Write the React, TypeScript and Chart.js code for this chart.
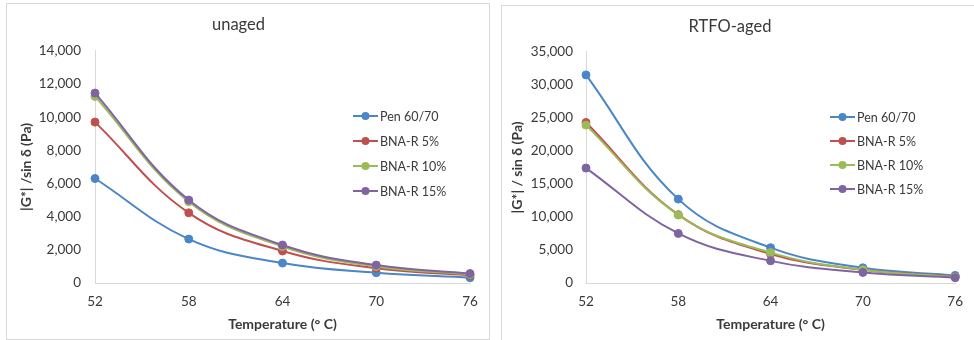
import React, { useEffect, useRef } from "react";
import { Chart, registerables } from "chart.js";

Chart.register(...registerables);

const temperatures = ["52", "58", "64", "70", "76"];
const seriesNames = ["Pen 60/70", "BNA-R 5%", "BNA-R 10%", "BNA-R 15%"];
const seriesColors = ["#4A86C8", "#C0504D", "#9BBB59", "#8064A2"];

const unagedPen = [6300, 2650, 1200, 620, 320];
const unagedBna5 = [9700, 4230, 1930, 890, 460];
const unagedBna10 = [11250, 4900, 2200, 1000, 520];
const unagedBna15 = [11450, 5000, 2290, 1080, 570];

const rtfoPen = [31500, 12700, 5350, 2300, 1150];
const rtfoBna5 = [24300, 10350, 4400, 2000, 950];
const rtfoBna10 = [23900, 10300, 4600, 2000, 900];
const rtfoBna15 = [17400, 7500, 3350, 1600, 800];

const FONT = "Lato, 'Open Sans', sans-serif";
const TEXT = "#3a3a3a";

type PanelCfg = {
  title: string;
  yTitle: string;
  series: number[][];
  yMax: number;
  yStep: number;
  width: number;
  height: number;
  yWidth: number;
  xHeight: number;
  padRight: number;
  titlePadTop: number;
  titlePadBottom: number;
  yTitlePad: number;
  yTickPad: number;
  xTitlePad: number;
  legendX: number;
  legendY: number[];
};

const legendPlugin = {
  id: "insideLegend",
  afterDraw(chart: any, _args: any, opts: any) {
    const ctx = chart.ctx;
    ctx.save();
    chart.data.datasets.forEach((ds: any, i: number) => {
      const y = opts.ys[i];
      const x0 = opts.x;
      ctx.strokeStyle = ds.borderColor;
      ctx.lineWidth = 2;
      ctx.beginPath();
      ctx.moveTo(x0, y);
      ctx.lineTo(x0 + 25, y);
      ctx.stroke();
      ctx.fillStyle = ds.borderColor;
      ctx.beginPath();
      ctx.arc(x0 + 12.5, y, 4, 0, Math.PI * 2);
      ctx.fill();
      ctx.fillStyle = TEXT;
      ctx.font = `12.5px ${FONT}`;
      ctx.textBaseline = "middle";
      ctx.textAlign = "left";
      ctx.fillText(ds.label, x0 + 27, y + 0.5);
    });
    ctx.restore();
  },
};

function Panel({ cfg }: { cfg: PanelCfg }) {
  const ref = useRef<HTMLCanvasElement>(null);
  useEffect(() => {
    if (!ref.current) return;
    const chart = new Chart(ref.current, {
      type: "line",
      data: {
        labels: temperatures,
        datasets: cfg.series.map((d, i) => ({
          label: seriesNames[i],
          data: d,
          borderColor: seriesColors[i],
          backgroundColor: seriesColors[i],
          pointBackgroundColor: seriesColors[i],
          pointBorderColor: seriesColors[i],
          pointRadius: 4,
          pointBorderWidth: 1,
          borderWidth: 2,
          tension: 0.4,
          order: 3 - i,
          fill: false,
        })),
      },
      options: {
        responsive: false,
        animation: false,
        layout: { padding: { left: 0, right: cfg.padRight, top: 0, bottom: 0 } },
        plugins: {
          legend: { display: false },
          tooltip: { enabled: false },
          title: {
            display: true,
            text: cfg.title,
            color: TEXT,
            font: { family: FONT, size: 16.5, weight: "normal" as any },
            padding: { top: cfg.titlePadTop, bottom: cfg.titlePadBottom },
          },
          insideLegend: { x: cfg.legendX, ys: cfg.legendY },
        } as any,
        scales: {
          x: {
            type: "category",
            offset: false,
            grid: { display: false, drawTicks: false },
            border: { display: true, color: "#d9d9d9", width: 1 },
            ticks: {
              color: TEXT,
              font: { family: FONT, size: 13.5 },
              padding: 11,
              maxRotation: 0,
            },
            title: {
              display: true,
              text: "Temperature (° C)",
              color: TEXT,
              font: { family: FONT, size: 14, weight: "bold" as any },
              padding: { top: 0, bottom: cfg.xTitlePad },
            },
            afterFit(scale: any) {
              scale.height = cfg.xHeight;
            },
          },
          y: {
            min: 0,
            max: cfg.yMax,
            grid: { display: false, drawTicks: false },
            border: { display: true, color: "#d9d9d9", width: 1 },
            ticks: {
              stepSize: cfg.yStep,
              color: TEXT,
              font: { family: FONT, size: 13.5 },
              padding: cfg.yTickPad,
              callback: (v: any) => Number(v).toLocaleString("en-US"),
            },
            title: {
              display: true,
              text: cfg.yTitle,
              color: TEXT,
              font: { family: FONT, size: 14, weight: "bold" as any },
              padding: { top: cfg.yTitlePad, bottom: 0 },
            },
            afterFit(scale: any) {
              scale.width = cfg.yWidth;
            },
          },
        },
      },
      plugins: [legendPlugin],
    });
    return () => chart.destroy();
  }, [cfg]);
  return <canvas ref={ref} width={cfg.width} height={cfg.height} style={{ display: "block" }} />;
}

const leftCfg: PanelCfg = {
  title: "unaged",
  yTitle: "|G*| /sin δ (Pa)",
  series: [unagedPen, unagedBna5, unagedBna10, unagedBna15],
  yMax: 14000,
  yStep: 2000,
  width: 482,
  height: 335,
  yWidth: 88,
  xHeight: 56,
  padRight: 19,
  titlePadTop: 11,
  titlePadBottom: 16,
  yTitlePad: 11.5,
  yTickPad: 14,
  xTitlePad: 6.5,
  legendX: 346,
  legendY: [112, 137, 162, 187],
};

const rightCfg: PanelCfg = {
  title: "RTFO-aged",
  yTitle: "|G*| / sin δ (Pa)",
  series: [rtfoPen, rtfoBna5, rtfoBna10, rtfoBna15],
  yMax: 35000,
  yStep: 5000,
  width: 472,
  height: 334,
  yWidth: 84,
  xHeight: 57,
  padRight: 16,
  titlePadTop: 11,
  titlePadBottom: 15,
  yTitlePad: 7.5,
  yTickPad: 13,
  xTitlePad: 7.5,
  legendX: 328,
  legendY: [111, 135, 159, 183],
};

export default function App() {
  return (
    <div
      style={{
        position: "fixed",
        left: 0,
        top: 0,
        width: 974,
        height: 340,
        background: "#fff",
        overflow: "hidden",
      }}
    >
      <div
        style={{
          position: "absolute",
          left: 6,
          top: 3,
          width: 484,
          height: 337,
          boxSizing: "border-box",
          border: "1px solid #d9d9d9",
        }}
      >
        <Panel cfg={leftCfg} />
      </div>
      <div
        style={{
          position: "absolute",
          left: 501,
          top: 5,
          width: 480,
          height: 340,
          boxSizing: "border-box",
          border: "1px solid #d9d9d9",
        }}
      >
        <Panel cfg={rightCfg} />
      </div>
    </div>
  );
}
